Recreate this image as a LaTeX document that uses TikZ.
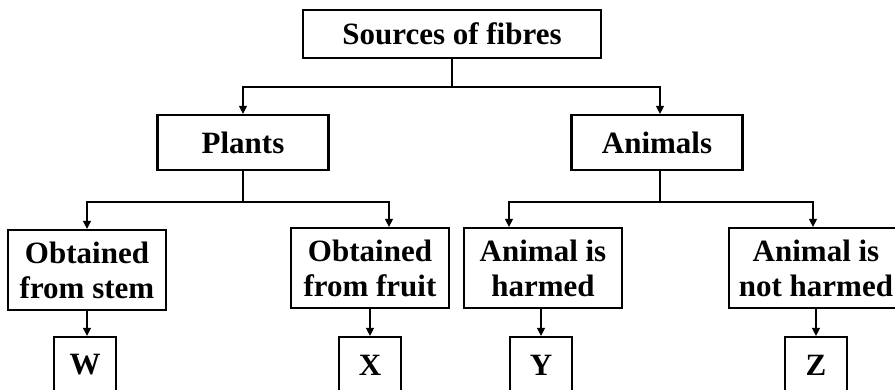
\documentclass[tikz,border=0pt]{standalone}
\usepackage{fontspec}
\setmainfont{Liberation Serif}
\usetikzlibrary{arrows.meta}
\begin{document}
\begin{tikzpicture}[x=1pt,y=-1pt,>={Triangle[length=8pt,width=8pt]},line width=1.2pt,
    font=\fontsize{31}{35}\selectfont\bfseries,
    box/.style={draw,line width=2.2pt,align=center,inner sep=0pt},
    leaf/.style={box,minimum width=62pt,minimum height=56pt}]
        \def\ytop{87}
        \def\ymid{202}

        \clip (0,0) rectangle (895,389);

        \node[box,minimum width=298pt,minimum height=48pt] (src) at (452,34) {Sources of fibres};
        \node[box,minimum width=171pt,minimum height=55pt] (plants) at (243,142.5) {Plants};
        \node[box,minimum width=171pt,minimum height=55pt] (animals) at (657,142.5) {Animals};

        \node[box,minimum width=158pt,minimum height=80pt] (stem) at (87,270) {Obtained\\from stem};
        \node[box,minimum width=158pt,minimum height=80pt] (fruit) at (370,268) {Obtained\\from fruit};
        \node[box,minimum width=158pt,minimum height=80pt] (harmed) at (543,268) {Animal is\\harmed};
        \node[box,minimum width=174pt,minimum height=80pt] (notharmed) at (816,268) {Animal is\\not harmed};

        \node[leaf] (w) at (85,365) {W};
        \node[leaf] (x) at (370,365) {X};
        \node[leaf] (y) at (541,365) {Y};
        \node[leaf] (z) at (816,365) {Z};

        \draw[->] (src.south) -- (452,\ytop) -| (plants.north);
        \draw[->] (src.south) -- (452,\ytop) -| ([xshift=3pt]animals.north);

        \draw[->] (plants.south) -- (243,\ymid) -| (stem.north);
        \draw[->] (plants.south) -- (243,\ymid) -| ([xshift=19pt]fruit.north);
        \draw[->] ([xshift=3pt]animals.south) -- (660,\ymid) -| ([xshift=-34pt]harmed.north);
        \draw[->] ([xshift=3pt]animals.south) -- (660,\ymid) -| ([xshift=-3pt]notharmed.north);

        \draw[->] (stem.south) -- (stem.south |- w.north);
        \draw[->] (fruit.south) -- (x.north);
        \draw[->] (harmed.south -| y.north) -- (y.north);
        \draw[->] (notharmed.south) -- (z.north);
\end{tikzpicture}
\end{document}
